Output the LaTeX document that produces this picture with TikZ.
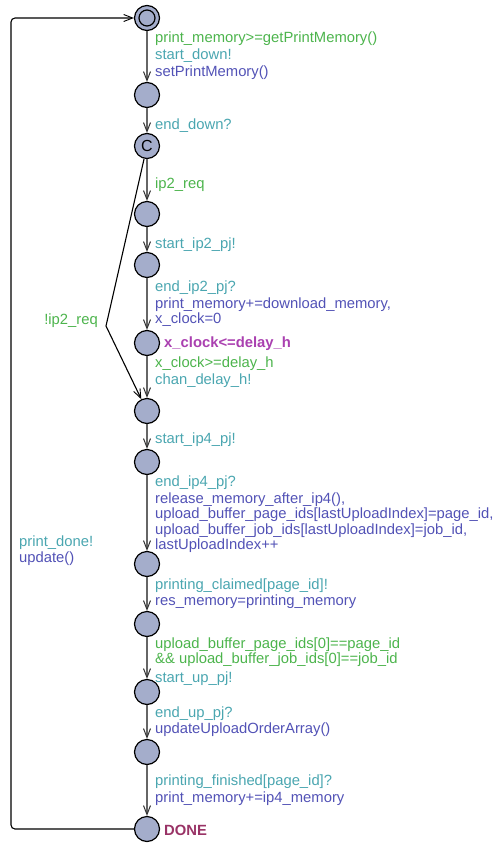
\documentclass[tikz,border=0pt]{standalone}
\usepackage{fontspec}
\setmainfont{Liberation Sans}
\usetikzlibrary{arrows.meta}
\definecolor{locfill}{RGB}{164,173,203}
\definecolor{guardc}{RGB}{76,180,76}
\definecolor{syncc}{RGB}{74,166,176}
\definecolor{updc}{RGB}{82,82,182}
\definecolor{invc}{RGB}{170,64,176}
\definecolor{namec}{RGB}{153,51,102}

\begin{document}
\begin{tikzpicture}[
        x=1pt, y=-1pt,
        loc/.style={circle, draw, line width=1.2pt, fill=locfill, minimum size=25pt, inner sep=0pt},
        trans/.style={-{Straight Barb[length=9pt, width=7pt, line width=1pt, color=black!80]}, draw=black!60, line width=2pt},
        back/.style={-{Straight Barb[length=9pt, width=7pt, line width=0.9pt]}, line width=1.1pt},
        lbl/.style={anchor=west, inner sep=0pt, font=\fontsize{14.8}{15.5}\selectfont, align=left},
        guard/.style={lbl, text=guardc},
        sync/.style={lbl, text=syncc},
        upd/.style={lbl, text=updc},
        block/.style={anchor=north west}
    ]
        \useasboundingbox (0,0) rectangle (496,844);

        % locations
        \node[loc, path picture={\draw[line width=1.2pt] (path picture bounding box.center) circle (8pt);}] (INIT) at (147,18) {};
        \node[loc] (L1) at (147,95) {};
        \node[loc, font=\fontsize{16}{16}\selectfont] (L2) at (147,146) {C};
        \node[loc] (L3) at (147,214) {};
        \node[loc] (L4) at (147,265) {};
        \node[loc] (L5) at (147,343) {};
        \node[loc] (L6) at (147,411) {};
        \node[loc] (L7) at (147,462) {};
        \node[loc] (L8) at (147,564) {};
        \node[loc] (L9) at (147,624) {};
        \node[loc] (L10) at (147,692) {};
        \node[loc] (L11) at (147,752) {};
        \node[loc] (DONE) at (147,829) {};

        \node[lbl, font=\fontsize{14.8}{15.5}\selectfont\bfseries, text=invc] (INV) at (164,344) {x\_clock<=delay\_h};
        \node[lbl, font=\fontsize{14.8}{15.5}\selectfont\bfseries, text=namec] (NAME) at (164,830) {DONE};

        % main chain
        \draw[trans] (INIT) -- (L1);
        \draw[trans] (L1) -- (L2);
        \draw[trans] (L2) -- (L3);
        \draw[trans] (L3) -- (L4);
        \draw[trans] (L4) -- (L5);
        \draw[trans] (L5) -- (L6);
        \draw[trans] (L6) -- (L7);
        \draw[trans] (L7) -- (L8);
        \draw[trans] (L8) -- (L9);
        \draw[trans] (L9) -- (L10);
        \draw[trans] (L10) -- (L11);
        \draw[trans] (L11) -- (DONE);

        % skip ip2 and loop back
        \coordinate (KINK) at (106,326);
        \coordinate (BL) at (11,829);
        \coordinate (TL) at (11,18);
        \draw[back] (L2) -- (KINK) -- (L6);
        \draw[back, rounded corners=4pt] (DONE) -- (BL) -- (TL) -- (INIT);

        % edge labels
        \node[guard] at (155,38.5) {print\_memory>=getPrintMemory()};
        \node[sync] at (155,55.5) {start\_down!};
        \node[upd] at (155,72.5) {setPrintMemory()};

        \node[sync] at (155,125.5) {end\_down?};
        \node[guard] at (155,184.5) {ip2\_req};
        \node[sync] at (155,244.5) {start\_ip2\_pj!};

        \node[sync] at (155,287.5) {end\_ip2\_pj?};
        \node[upd, block] at (155,297.5) {print\_memory+=download\_memory,\\x\_clock=0};

        \node[guard] at (155,363.5) {x\_clock>=delay\_h};
        \node[sync] at (155,380.5) {chan\_delay\_h!};

        \node[guard, anchor=east] at (98,320.5) {!ip2\_req};

        \node[sync] at (155,439.5) {start\_ip4\_pj!};

        \node[sync] at (155,482.5) {end\_ip4\_pj?};
        \node[upd, block] at (155,492.5) {release\_memory\_after\_ip4(),\\upload\_buffer\_page\_ids[lastUploadIndex]=page\_id,\\upload\_buffer\_job\_ids[lastUploadIndex]=job\_id,\\lastUploadIndex++};

        \node[sync] at (155,585.5) {printing\_claimed[page\_id]!};
        \node[upd] at (155,601.5) {res\_memory=printing\_memory};

        \node[guard, block] at (155,637.5) {upload\_buffer\_page\_ids[0]==page\_id\\\&\& upload\_buffer\_job\_ids[0]==job\_id};
        \node[sync] at (155,678.5) {start\_up\_pj!};

        \node[sync] at (155,713.5) {end\_up\_pj?};
        \node[upd] at (155,729.5) {updateUploadOrderArray()};

        \node[sync] at (155,781.5) {printing\_finished[page\_id]?};
        \node[upd] at (155,798.5) {print\_memory+=ip4\_memory};

        \node[sync] at (19,542.5) {print\_done!};
        \node[upd] at (19,558.5) {update()};
    \end{tikzpicture}
\end{document}
